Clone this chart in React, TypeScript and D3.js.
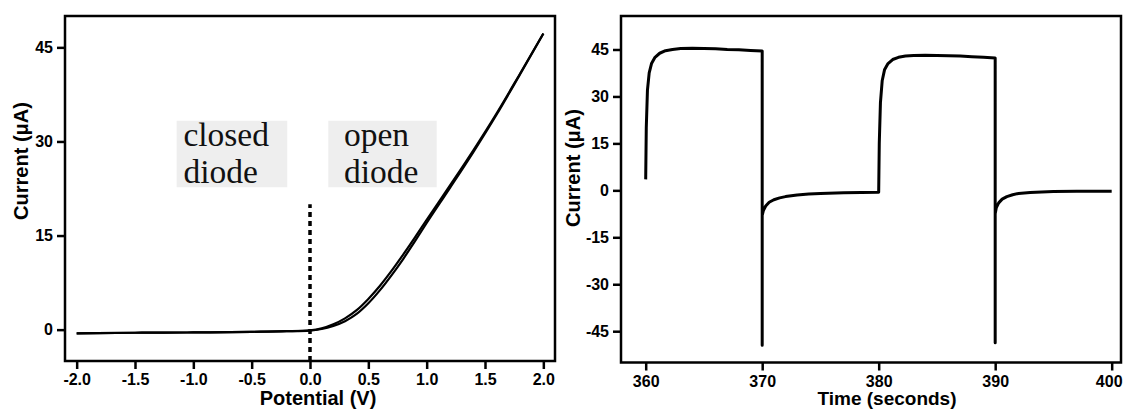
import * as d3 from 'd3';
import React, { useRef, useEffect } from 'react';

// I-V sweep (left panel)
const potential = [-2.0, -1.5, -1.0, -0.5, -0.2, 0.0, 0.1, 0.2, 0.3, 0.4, 0.5, 0.6, 0.7, 0.8, 0.9, 1.0, 1.2, 1.4, 1.6, 1.8, 2.0];
const currentForward = [-0.6, -0.5, -0.45, -0.35, -0.25, -0.1, 0.2, 0.85, 1.8, 3.1, 4.9, 7.0, 9.4, 12.0, 14.7, 17.5, 23.0, 28.6, 34.5, 40.8, 47.2];
const currentReverse = [-0.6, -0.5, -0.45, -0.35, -0.25, -0.15, 0.1, 0.6, 1.35, 2.5, 4.2, 6.3, 8.7, 11.3, 14.1, 17.0, 22.6, 28.3, 34.3, 40.7, 47.2];
const ivXTicks = [-2.0, -1.5, -1.0, -0.5, 0.0, 0.5, 1.0, 1.5, 2.0];
const ivYTicks = [0, 15, 30, 45];

// switching transient (right panel)
const time = [
  360.0, 360.05, 360.15, 360.3, 360.5, 360.8, 361.2, 361.7, 362.3, 363, 364, 365, 366, 367, 368, 369, 370,
  370, 370, 370.1, 370.3, 370.6, 371, 371.5, 372, 373, 374, 375, 377, 380,
  380.05, 380.15, 380.3, 380.5, 380.8, 381.2, 381.7, 382.3, 383, 384, 385, 386, 387, 388, 389, 390,
  390, 390, 390.1, 390.3, 390.6, 391, 391.5, 392, 393, 394, 395, 397, 400,
];
const currentStep = [
  3.5, 20, 32, 37.5, 40.5, 42.5, 43.8, 44.6, 45.0, 45.3, 45.4, 45.3, 45.2, 45.0, 44.9, 44.7, 44.5,
  -49.5, -8, -6.5, -5, -3.8, -3.0, -2.4, -2.0, -1.5, -1.2, -1.0, -0.8, -0.6,
  15, 28, 35, 38.5, 40.5, 41.8, 42.5, 42.9, 43.1, 43.2, 43.1, 43.0, 42.9, 42.7, 42.5, 42.3,
  -48.7, -7.5, -5.5, -4.0, -2.8, -2.0, -1.4, -1.0, -0.7, -0.5, -0.4, -0.3, -0.3,
];
const stepXTicks = [360, 370, 380, 390, 400];
const stepYTicks = [-45, -30, -15, 0, 15, 30, 45];

const regionLabels = [
  { lines: ['closed', 'diode'], x0: -1.143, x1: -0.195, tx: -1.085 },
  { lines: ['open', 'diode'], x0: 0.157, x1: 1.086, tx: 0.291 },
];

const SANS = '"Liberation Sans", Arial, Helvetica, sans-serif';
const SERIF = '"Liberation Serif", "Times New Roman", serif';

function styleAxis(g) {
  g.attr('font-family', SANS).attr('font-size', 16).attr('font-weight', 'bold');
  g.select('.domain').remove();
  g.selectAll('.tick line').attr('stroke', '#000').attr('stroke-width', 2.5);
  g.selectAll('.tick text')
    .attr('fill', '#000')
    .style('font-family', SANS)
    .style('font-size', '16px')
    .style('font-weight', 'bold');
}

function addAxes(svg, x, y, xTicks, yTicks, fmtX, fmtY) {
  const [left, right] = x.range();
  const [bottom, top] = y.range();

  const xa = svg
    .append('g')
    .attr('transform', `translate(0,${bottom})`)
    .call(d3.axisBottom(x).tickValues(xTicks).tickFormat(fmtX).tickSize(8).tickSizeOuter(0).tickPadding(5))
    .call(styleAxis);
  svg
    .append('g')
    .attr('transform', `translate(${left},0)`)
    .call(d3.axisLeft(y).tickValues(yTicks).tickFormat(fmtY).tickSize(8).tickSizeOuter(0).tickPadding(4))
    .call(styleAxis);

  // box frame
  svg
    .append('rect')
    .attr('x', left)
    .attr('y', top)
    .attr('width', right - left)
    .attr('height', bottom - top)
    .attr('fill', 'none')
    .attr('stroke', '#000')
    .attr('stroke-width', 2.5);

  return xa;
}

function addTitle(svg, text, x, y, rotate, size) {
  svg
    .append('text')
    .attr('transform', `translate(${x},${y})${rotate ? ' rotate(-90)' : ''}`)
    .attr('text-anchor', 'middle')
    .attr('font-family', SANS)
    .attr('font-size', size)
    .attr('font-weight', 'bold')
    .text(text);
}

export default function App() {
  const ref = useRef(null);

  useEffect(() => {
    const svg = d3.select(ref.current);
    svg.selectAll('*').remove();

    // ---- left panel: I-V ----
    const x1 = d3.scaleLinear().domain([-2.1, 2.1]).range([65, 555]);
    const y1 = d3.scaleLinear().domain([-5, 50]).range([361, 16]);

    const ivLine = d3
      .line()
      .x((d) => x1(d[0]))
      .y((d) => y1(d[1]))
      .curve(d3.curveMonotoneX);

    // region labels
    regionLabels.forEach((r) => {
      svg
        .append('rect')
        .attr('x', x1(r.x0))
        .attr('y', y1(33.3))
        .attr('width', x1(r.x1) - x1(r.x0))
        .attr('height', y1(22.7) - y1(33.3))
        .attr('fill', '#eeeeee');
      r.lines.forEach((t, i) => {
        svg
          .append('text')
          .attr('x', x1(r.tx))
          .attr('y', y1(i === 0 ? 29.3 : 23.4))
          .attr('font-family', SERIF)
          .attr('font-size', 33.5)
          .attr('fill', '#111')
          .text(t);
      });
    });

    // threshold marker at 0 V
    svg
      .append('line')
      .attr('x1', x1(0))
      .attr('x2', x1(0))
      .attr('y1', y1(-5))
      .attr('y2', y1(20))
      .attr('stroke', '#000')
      .attr('stroke-width', 3.5)
      .attr('stroke-dasharray', '5,4');

    [currentForward, currentReverse].forEach((series) => {
      svg
        .append('path')
        .datum(potential.map((p, i) => [p, series[i]]))
        .attr('d', ivLine)
        .attr('fill', 'none')
        .attr('stroke', '#000')
        .attr('stroke-width', 2.2);
    });

    addAxes(svg, x1, y1, ivXTicks, ivYTicks, (d) => d.toFixed(1), (d) => String(d));
    addTitle(svg, 'Potential (V)', 318, 405, false, 20);
    addTitle(svg, 'Current (\u03bcA)', 28, 161, true, 20);

    // ---- right panel: transient ----
    const x2 = d3.scaleLinear().domain([357.88, 400.8]).range([621, 1121]);
    const y2 = d3.scaleLinear().domain([-55, 55.7]).range([362.5, 16]);

    const stepLine = d3
      .line()
      .x((d) => x2(d[0]))
      .y((d) => y2(d[1]));

    svg
      .append('path')
      .datum(time.map((t, i) => [t, currentStep[i]]))
      .attr('d', stepLine)
      .attr('fill', 'none')
      .attr('stroke', '#000')
      .attr('stroke-width', 3)
      .attr('stroke-linejoin', 'round');

    const xa2 = addAxes(svg, x2, y2, stepXTicks, stepYTicks, (d) => String(d), (d) => String(d));
    // last label sits at the page edge, pull it in a touch
    xa2.selectAll('.tick text').filter((d) => d === 400).attr('dx', -3);
    addTitle(svg, 'Time (seconds)', 887, 405, false, 19);
    addTitle(svg, 'Current (\u03bcA)', 580, 168, true, 20);
  }, []);

  return (
    <svg
      ref={ref}
      width={1124}
      height={414}
      style={{ position: 'absolute', left: 0, top: 0, background: '#fff' }}
    />
  );
}
